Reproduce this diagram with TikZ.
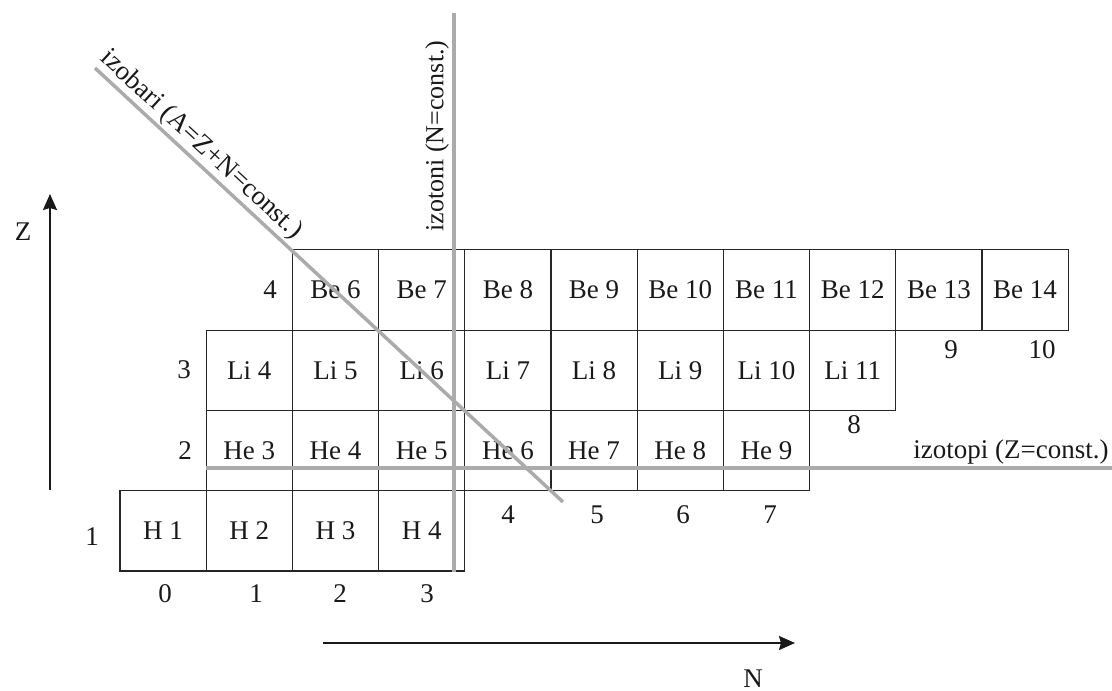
\documentclass[tikz,border=0pt]{standalone}
\usepackage{fontspec}
\setmainfont{Liberation Serif}
\usetikzlibrary{arrows.meta}
\begin{document}
\begin{tikzpicture}[x=1pt,y=-1pt,
  every node/.style={font=\fontsize{27}{30}\selectfont, inner sep=0pt, text=black!90},
  cell/.style={draw=black!85, line width=1.2pt, minimum width=86.2pt, minimum height=80.3pt, outer sep=0pt},
  guide/.style={draw=black!33, line width=3.5pt},
  guidetext/.style={font=\fontsize{26}{30}\selectfont},
  axis/.style={draw=black!90, line width=1.8pt, -{Stealth[length=16pt,width=14pt,inset=2pt]}}]
\useasboundingbox (0,0) rectangle (1112,691);
% cells
\foreach \a in {1,...,4}
  \node[cell] (cH\a) at ({120+86.2*(\a-0.5)},530.85) {H \a};
\foreach \a in {3,...,9}
  \node[cell] (cHe\a) at ({120+86.2*(\a-1.5)},450.55) {He \a};
\foreach \a in {4,...,11}
  \node[cell] (cLi\a) at ({120+86.2*(\a-2.5)},370.25) {Li \a};
\foreach \a in {6,...,14}
  \node[cell] (cBe\a) at ({120+86.2*(\a-3.5)},289.95) {Be \a};
% Z labels
\node (z4) at (270,290) {4};
\node (z3) at (184,370) {3};
\node (z2) at (185,451) {2};
\node (z1) at (92,537) {1};
% N labels
\node (n0) at (165,594) {0};
\node (n1) at (256,594) {1};
\node (n2) at (340,594) {2};
\node (n3) at (427,594) {3};
\node (n4) at (508,515) {4};
\node (n5) at (597,515) {5};
\node (n6) at (683,515) {6};
\node (n7) at (770,515) {7};
\node (n8) at (854,425) {8};
\node (n9) at (951,350) {9};
\node (n10) at (1042,350) {10};
% guide lines
\coordinate (vA) at (454,13);
\coordinate (vB) at (454,572);
\coordinate (hA) at (206,468);
\coordinate (hB) at (1112,468);
\coordinate (dA) at (95,68);
\coordinate (dB) at (563,502);
\draw[guide] (vA) -- (vB);
\draw[guide] (hA) -- (hB);
\draw[guide] (dA) -- (dB);
\node[guidetext, rotate=90] (tN) at (437,136) {izotoni (N=const.)};
\node[rotate=-42.8] (tA) at (201,145) {izobari (A=Z+N=const.)};
\node (tZ) at (1011,452) {izotopi (Z=const.)};
% axes
\coordinate (zA) at (50,490);
\coordinate (zB) at (50,194);
\coordinate (nA) at (323,643);
\coordinate (nB) at (795,643);
\draw[axis] (zA) -- (zB);
\draw[axis] (nA) -- (nB);
\node (lZ) at (23,232) {Z};
\node (lN) at (753,679) {N};
\end{tikzpicture}
\end{document}
